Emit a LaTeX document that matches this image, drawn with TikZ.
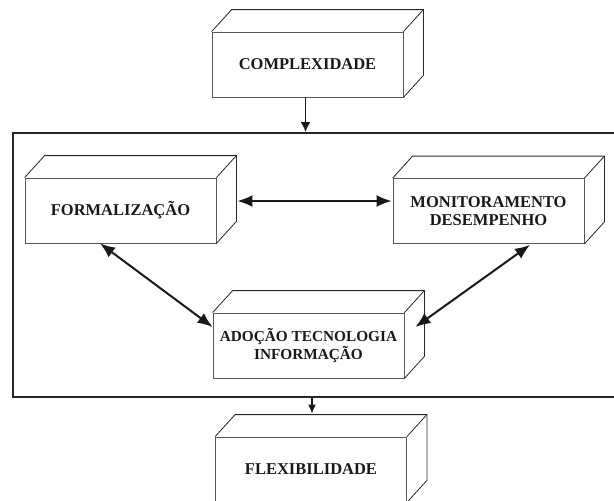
\documentclass[tikz,border=0pt]{standalone}
\usepackage{fontspec}
\setmainfont{Liberation Serif}
\usetikzlibrary{calc,arrows.meta}
\tikzset{
  cubefront/.style={draw=black!65, line width=0.8pt, fill=white, minimum width=191pt, minimum height=65pt,
    inner sep=0pt, align=center, text=black!90,
    font=\bfseries\fontsize{16.5}{18.5}\selectfont},
  cubeedge/.style={draw=black!85, line width=0.8pt, line join=miter},
  framebox/.style={draw=black!85, line width=1.6pt},
  bigarrow/.style={line width=2pt, draw=black!90, {Latex[length=15pt,width=12pt]}-{Latex[length=15pt,width=12pt]}},
  downarrow/.style={line width=1.7pt, draw=black!90, -{Latex[length=10pt,width=10pt]}},
  smallarrow/.style={line width=1.3pt, draw=black!90, -{Latex[length=9pt,width=8pt]}}
}
\newcommand\cubebox[4][]{%
  \node[cubefront,#1] (#2) at (#3) {#4};
  \draw[cubeedge] (#2.north west) -- ++(20,-22) -- ($(#2.north east)+(20,-22)$) -- ($(#2.south east)+(20,-22)$) -- (#2.south east);
  \draw[cubeedge] (#2.north east) -- ++(20,-22);
}
\begin{document}
\begin{tikzpicture}[x=1pt,y=-1pt]
\useasboundingbox (0,0) rectangle (614,501);
\clip (0,0) rectangle (614,501);
\node[framebox, minimum width=610pt, minimum height=264pt, inner sep=0pt, anchor=north west] (frame) at (12,132) {};
\cubebox{compl}{307.5,64.5}{COMPLEXIDADE}
\cubebox{formal}{120.5,210.5}{FORMALIZAÇÃO}
\cubebox{mon}{488.5,211}{MONITORAMENTO\\DESEMPENHO}
\cubebox[font=\bfseries\fontsize{15.3}{17.5}\selectfont]{adop}{308.5,345.5}{ADOÇÃO TECNOLOGIA\\INFORMAÇÃO}
\cubebox{flex}{311,469.5}{FLEXIBILIDADE}
\coordinate (cin) at ($(compl.south)+(-2,0)$);
\draw[downarrow] (cin) -- (cin |- frame.north);
\coordinate (fin) at ($(flex.north)+(1,-23)$);
\draw[smallarrow] (fin |- frame.south) -- (fin);
\draw[bigarrow] ($(formal.east)+(21,-9.5)$) -- ($(mon.west)+(-1,-10)$);
\draw[bigarrow] ($(formal.south)+(-20.5,0)$) -- ($(adop.west)+(0,-18.5)$);
\draw[bigarrow] ($(mon.south)+(41.5,1)$) -- ($(adop.east)+(11,-18.5)$);
\end{tikzpicture}
\end{document}
